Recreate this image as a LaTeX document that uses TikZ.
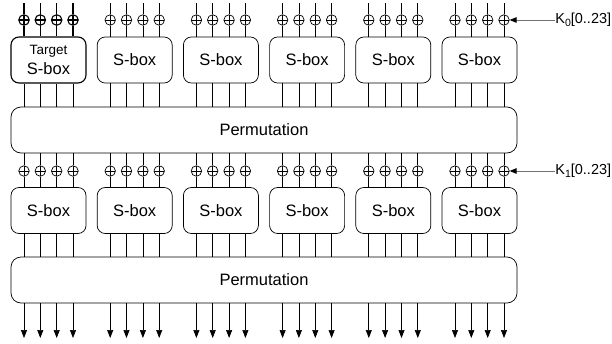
\documentclass[tikz,border=0pt]{standalone}
\usepackage{fontspec}
\setmainfont{Liberation Sans}
\usetikzlibrary{arrows.meta}
\begin{document}
\begin{tikzpicture}[x=1pt,y=-1pt,
  line width=0.7pt,
  sbox/.style={draw, rounded corners=8pt, minimum width=75pt, minimum height=46pt, inner sep=0pt,
    font=\fontsize{16.5}{18}\selectfont},
  target/.style={sbox, line width=1.1pt, align=center},
  perm/.style={draw, rounded corners=10pt, minimum width=506pt, minimum height=46pt, inner sep=0pt,
    font=\fontsize{16.5}{18}\selectfont},
  xor/.style={circle, draw, minimum size=10.5pt, inner sep=0pt,
    path picture={\draw (path picture bounding box.north) -- (path picture bounding box.south)
      (path picture bounding box.west) -- (path picture bounding box.east);}},
  boldxor/.style={xor, line width=1.1pt},
  klabel/.style={anchor=west, inner sep=0pt, font=\fontsize{14.5}{16}\selectfont},
  karrow/.style={draw=gray!90!black, line width=0.9pt, -{Triangle[length=7pt,width=5.5pt,fill=black,color=black]}},
  outarrow/.style={-{Triangle[length=8pt,width=6pt]}},
]
\useasboundingbox (0,0) rectangle (612,343);
\node[perm] (p1) at (264,130) {Permutation};
\node[perm] (p2) at (264,280) {Permutation};
\foreach \i in {0,...,5} {
  \pgfmathsetmacro\cx{48.5+86.2*\i}
  \ifnum\i=0
    \node[target] (a\i) at (\cx,60) {{\fontsize{13.5}{15}\selectfont Target}\\[2pt]S-box};
  \else
    \node[sbox] (a\i) at (\cx,60) {S-box};
  \fi
  \node[sbox] (b\i) at (\cx,210.5) {S-box};
  \foreach \j/\o in {0/-24.5,1/-8.2,2/8.2,3/24.5} {
    \pgfmathsetmacro\lx{\cx+\o}
    \coordinate (t\i\j) at (\lx,3);
    \coordinate (o\i\j) at (\lx,338);
    \ifnum\i=0
      \node[boldxor] (x\i\j) at (\lx,20) {};
      \draw[line width=1.1pt] (t\i\j) -- (x\i\j.north);
      \draw[line width=1.1pt] (x\i\j.south) -- (x\i\j.south |- a\i.north);
    \else
      \node[xor] (x\i\j) at (\lx,20) {};
      \draw (t\i\j) -- (x\i\j.north);
      \draw (x\i\j.south) -- (x\i\j.south |- a\i.north);
    \fi
    \draw (x\i\j.south |- a\i.south) -- (x\i\j.south |- p1.north);
    \node[xor] (y\i\j) at (\lx,171) {};
    \draw (y\i\j.north |- p1.south) -- (y\i\j.north);
    \draw (y\i\j.south) -- (y\i\j.south |- b\i.north);
    \draw (y\i\j.south |- b\i.south) -- (y\i\j.south |- p2.north);
    \draw[outarrow] (o\i\j |- p2.south) -- (o\i\j);
  }
}
\node[klabel] (k0) at (555,20) {K\raisebox{-2.5pt}{\fontsize{10.5}{12}\selectfont 0}[0..23]};
\node[klabel] (k1) at (555,171) {K\raisebox{-2.5pt}{\fontsize{10.5}{12}\selectfont 1}[0..23]};
\draw[karrow] (k0.west) -- (x53.east);
\draw[karrow] (k1.west) -- (y53.east);
\end{tikzpicture}
\end{document}
